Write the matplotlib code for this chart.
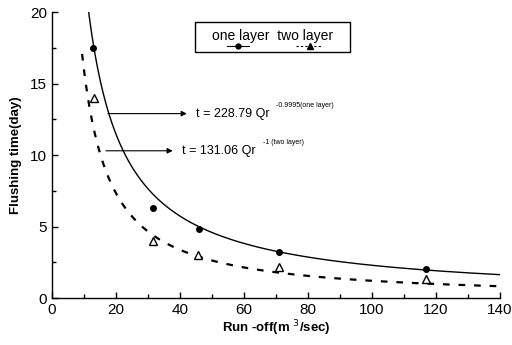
import numpy as np
import matplotlib
matplotlib.use("Agg")
import matplotlib.pyplot as plt
from matplotlib.ticker import MultipleLocator
from matplotlib.patches import Rectangle

plt.rcParams['font.family'] = ['Liberation Sans', 'DejaVu Sans']

# observed data
q_one = [12.8, 31.5, 46.0, 71.0, 117.0]
t_one = [17.5, 6.3, 4.8, 3.2, 2.0]
q_two = [13.0, 31.5, 45.5, 71.0, 117.0]
t_two = [14.0, 4.0, 3.0, 2.2, 1.3]

# fitted curves (coefficient, exponent) as drawn
one_coef, one_exp = 228.79, -0.9995
two_coef, two_exp = 210.0, -1.12
one_qmin, two_qmin = 10.8, 9.4
q_max = 140

fig = plt.figure(figsize=(5.12, 3.45), dpi=100)
ax = fig.add_axes([0.1016, 0.136, 0.875, 0.829])

q1 = np.linspace(one_qmin, q_max, 300)
q2 = np.linspace(two_qmin, q_max, 300)
ax.plot(q1, one_coef * q1 ** one_exp, color='black', lw=1.0)
ax.plot(q2, two_coef * q2 ** two_exp, color='black', lw=1.6, ls=(0, (3, 4)))
ax.plot(q_one, t_one, 'o', color='black', ms=4)
ax.plot(q_two, t_two, '^', mfc='white', mec='black', ms=5.5, mew=1.0)

ax.set_xlim(0, 140)
ax.set_ylim(0, 20)
ax.xaxis.set_major_locator(MultipleLocator(20))
ax.xaxis.set_minor_locator(MultipleLocator(10))
ax.yaxis.set_major_locator(MultipleLocator(5))
ax.yaxis.set_minor_locator(MultipleLocator(2.5))
ax.tick_params(which='both', direction='in', labelsize=11, width=1)
ax.tick_params(which='major', length=4)
ax.tick_params(which='minor', length=3)
ax.spines['top'].set_visible(False)
ax.spines['right'].set_visible(False)
for s in ['left', 'bottom']:
    ax.spines[s].set_linewidth(1.0)

ax.set_xlabel(r'Run -off(m $^{3}$/sec)', fontsize=9.5, fontweight='bold', labelpad=1)
ax.set_ylabel('Flushing time(day)', fontsize=9.5, fontweight='bold', labelpad=6)

# annotations
ax.annotate('', xy=(43, 12.9), xytext=(16.6, 12.9),
            arrowprops=dict(arrowstyle='-|>', color='black', lw=0.8, mutation_scale=8))
ax.text(45, 12.9, 't = 228.79 Qr', fontsize=9, va='center')
ax.text(70, 13.5, '-0.9995(one layer)', fontsize=5, va='center')
ax.annotate('', xy=(38.6, 10.3), xytext=(16.0, 10.3),
            arrowprops=dict(arrowstyle='-|>', color='black', lw=0.8, mutation_scale=8))
ax.text(40.5, 10.3, 't = 131.06 Qr', fontsize=9, va='center')
ax.text(66, 10.9, '-1 (two layer)', fontsize=5, va='center')

# legend box
ax.add_patch(Rectangle((0.32, 0.86), 0.345, 0.105, transform=ax.transAxes,
                       fc='white', ec='black', lw=1.0, zorder=4))
ax.text(0.4925, 0.918, 'one layer  two layer', transform=ax.transAxes, fontsize=10,
        ha='center', va='center', zorder=5)
ax.plot([0.39, 0.44], [0.882, 0.882], transform=ax.transAxes, color='black', lw=0.8, zorder=5)
ax.plot([0.415], [0.882], 'o', transform=ax.transAxes, color='black', ms=3.5, zorder=6)
ax.plot([0.545, 0.6], [0.882, 0.882], transform=ax.transAxes, color='black', lw=0.8,
        ls=(0, (2, 2)), zorder=5)
ax.plot([0.575], [0.882], '^', transform=ax.transAxes, color='black', ms=4, zorder=6)

fig.savefig('out.png', dpi=100)
